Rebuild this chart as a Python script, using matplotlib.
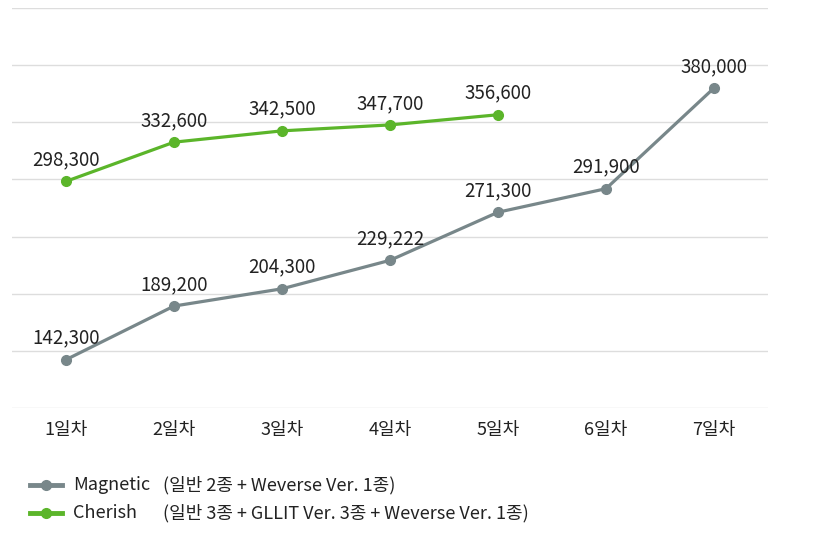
import matplotlib.pyplot as plt
from matplotlib.lines import Line2D

plt.rcParams['font.family'] = ['Noto Sans CJK KR', 'DejaVu Sans']

days = ["1일차", "2일차", "3일차", "4일차", "5일차", "6일차", "7일차"]
magnetic = [142300, 189200, 204300, 229222, 271300, 291900, 380000]
cherish = [298300, 332600, 342500, 347700, 356600]

magnetic_label = "Magnetic"
magnetic_note = "(일반 2종 + Weverse Ver. 1종)"
cherish_label = "Cherish"
cherish_note = "(일반 3종 + GLLIT Ver. 3종 + Weverse Ver. 1종)"

gray = "#78878a"
green = "#5bb52a"
text_color = "#222222"

W, H = 823, 551
fig = plt.figure(figsize=(W / 100, H / 100), dpi=100)
ax = fig.add_axes([12 / W, 1 - 408 / H, (768 - 12) / W, 400 / H])

x_m = list(range(len(magnetic)))
x_c = list(range(len(cherish)))
ax.plot(x_m, magnetic, color=gray, lw=2.3, marker="o", ms=7, zorder=3)
ax.plot(x_c, cherish, color=green, lw=2.3, marker="o", ms=7, zorder=3)

for xs, ys in ((x_m, magnetic), (x_c, cherish)):
    for x, y in zip(xs, ys):
        ax.annotate(f"{y:,}", (x, y), xytext=(0, 8), textcoords="offset points",
                    ha="center", va="bottom", fontsize=13.5, color=text_color)

ax.set_xlim(-0.5, 6.5)
ax.set_ylim(100000, 450000)
ax.set_yticks(range(100000, 450001, 50000))
ax.yaxis.grid(True, color="#dddddd", lw=1)
ax.set_axisbelow(True)
ax.set_xticks(x_m)
ax.set_xticklabels(days, fontsize=13, color=text_color)
ax.tick_params(axis="x", length=0, pad=9)
ax.tick_params(axis="y", length=0, labelleft=False)
for s in ax.spines.values():
    s.set_visible(False)

# legend drawn by hand so the notes line up in a column
rows = [(gray, magnetic_label, magnetic_note, 485),
        (green, cherish_label, cherish_note, 513)]
for color, label, note, ypx in rows:
    yf = 1 - ypx / H
    fig.add_artist(Line2D([30 / W, 62 / W], [yf, yf], transform=fig.transFigure,
                          color=color, lw=3.5))
    fig.add_artist(Line2D([46 / W], [yf], transform=fig.transFigure,
                          color=color, marker="o", ms=7))
    fig.text(73 / W, yf, label, fontsize=13, color=text_color, va="center")
    fig.text(163 / W, yf, note, fontsize=13, color=text_color, va="center")

fig.savefig("out.png", dpi=100)
